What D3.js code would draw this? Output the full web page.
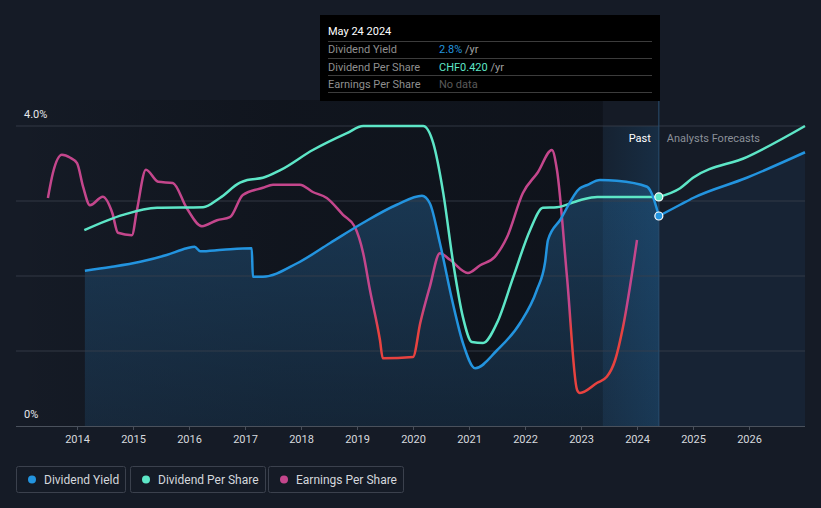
<!DOCTYPE html>
<html><head><meta charset="utf-8">
<script src="https://cdn.jsdelivr.net/npm/d3@7"></script>
<style>
html,body{margin:0;padding:0;background:#151b26;}
svg{display:block;font-family:Roboto,"Noto Sans",sans-serif;}
</style></head>
<body>
<svg id="c" width="821" height="508"></svg>
<script>
// ---- data ----
const yieldYears = [2014.14,2014.6,2015.13,2015.6,2015.96,2016.1,2016.2,2016.6,2017.12,2017.14,2017.32,2017.93,2018.52,2019.11,2019.71,2020.16,2020.3,2020.48,2020.71,2020.89,2021.11,2021.5,2021.91,2022.21,2022.36,2022.41,2022.63,2022.98,2023.1,2023.34,2023.64,2024.18,2024.25,2024.39];
const yieldValues = [2.07,2.12,2.19,2.28,2.37,2.39,2.33,2.35,2.37,1.99,1.99,2.17,2.44,2.71,2.95,3.07,2.97,2.44,1.64,1.11,0.77,1.01,1.37,1.81,2.19,2.48,2.75,3.17,3.21,3.28,3.27,3.19,3.12,2.80];
const yieldFcYears = [2024.39,2024.77,2025.0,2025.96,2027.0];
const yieldFcValues = [2.80,2.95,3.04,3.31,3.65];

const dpsYears = [2014.13,2014.82,2015.43,2016.25,2016.55,2016.91,2017.04,2017.32,2017.63,2018.21,2018.82,2019.11,2020.18,2020.36,2020.54,2020.71,2020.89,2021.05,2021.25,2021.5,2021.79,2022.09,2022.32,2022.57,2022.98,2023.29,2024.39];
const dpsValues = [0.359,0.387,0.400,0.401,0.418,0.446,0.451,0.455,0.469,0.506,0.537,0.55,0.55,0.519,0.427,0.304,0.200,0.154,0.152,0.189,0.273,0.359,0.400,0.401,0.414,0.420,0.420];
const dpsFcYears = [2024.39,2024.77,2025.0,2025.96,2027.0];
const dpsFcValues = [0.420,0.436,0.455,0.493,0.55];

const epsYears = [2013.48,2013.57,2013.73,2013.88,2014.0,2014.11,2014.23,2014.46,2014.63,2014.73,2014.98,2015.07,2015.23,2015.45,2015.71,2015.96,2016.23,2016.5,2016.73,2016.96,2017.32,2017.5,2017.98,2018.21,2018.46,2018.75,2018.96,2019.11,2019.23,2019.41,2019.46,2020.0,2020.13,2020.3,2020.48,2020.66,2020.98,2021.2,2021.46,2021.68,2021.96,2022.23,2022.48,2022.57,2022.75,2022.93,2022.98,2023.29,2023.46,2023.61,2023.75,2024.0];
const epsValues = [0.38,0.422,0.452,0.447,0.438,0.398,0.368,0.382,0.355,0.322,0.318,0.36,0.427,0.407,0.405,0.363,0.333,0.343,0.348,0.385,0.397,0.402,0.402,0.39,0.38,0.352,0.332,0.288,0.227,0.143,0.113,0.115,0.172,0.232,0.288,0.277,0.255,0.268,0.282,0.315,0.388,0.423,0.46,0.427,0.248,0.06,0.055,0.072,0.082,0.11,0.165,0.31];

const yTickLabels = ["0%","4.0%"];
const xTickYears = [2014,2015,2016,2017,2018,2019,2020,2021,2022,2023,2024,2025,2026];
const nowYear = 2024.39;
const pastStartYear = 2023.39;
const legendNames = ["Dividend Yield","Dividend Per Share","Earnings Per Share"];
const tooltipDate = "May 24 2024";
const tooltipRows = [["Dividend Yield","2.8%"," /yr"],["Dividend Per Share","CHF0.420"," /yr"],["Earnings Per Share","No data",""]];

// ---- styles ----
const C_BLUE="#2394df", C_TEAL="#5de6c7", C_MAG="#c4468c", C_RED="#e8423f";

const svg=d3.select("#c");
const L=16,R=805,T=126,B=426;
const x=d3.scaleLinear().domain([2012.91,2027.0]).range([L,R]);
const y=d3.scaleLinear().domain([0,4]).range([B,T]);
const yDps=d3.scaleLinear().domain([0,0.55]).range([B,T]);
const yEps=d3.scaleLinear().domain([0,0.5]).range([B,T]);

const defs=svg.append("defs");
const dk=defs.append("linearGradient").attr("id","dk").attr("x1",0).attr("x2",1).attr("y1",0).attr("y2",0);
dk.append("stop").attr("offset",0).attr("stop-color","#05070b").attr("stop-opacity",0);
dk.append("stop").attr("offset",0.45).attr("stop-color","#05070b").attr("stop-opacity",0.3);
dk.append("stop").attr("offset",1).attr("stop-color","#05070b").attr("stop-opacity",0.4);
const ar=defs.append("linearGradient").attr("id","ar").attr("x1",0).attr("x2",0).attr("y1",0).attr("y2",1);
ar.append("stop").attr("offset",0).attr("stop-color","#1d4466").attr("stop-opacity",0.75);
ar.append("stop").attr("offset",1).attr("stop-color","#1d4466").attr("stop-opacity",0.35);
const ps=defs.append("linearGradient").attr("id","ps").attr("x1",0).attr("x2",1).attr("y1",0).attr("y2",0);
ps.append("stop").attr("offset",0).attr("stop-color","#1f6fae").attr("stop-opacity",0.08);
ps.append("stop").attr("offset",1).attr("stop-color","#1f6fae").attr("stop-opacity",0.22);
const eg=defs.append("linearGradient").attr("id","eg").attr("gradientUnits","userSpaceOnUse")
  .attr("x1",0).attr("x2",0).attr("y1",T).attr("y2",B);
eg.append("stop").attr("offset",0).attr("stop-color",C_MAG);
eg.append("stop").attr("offset",(yEps(0.2)-T)/(B-T)).attr("stop-color",C_MAG);
eg.append("stop").attr("offset",(yEps(0.16)-T)/(B-T)).attr("stop-color",C_RED);
eg.append("stop").attr("offset",1).attr("stop-color",C_RED);

// darkening toward now
svg.append("rect").attr("x",L).attr("y",100).attr("width",x(pastStartYear)-L).attr("height",B-100).attr("fill","url(#dk)");

// areas
const yd=yieldYears.map((t,i)=>[t,yieldValues[i]]);
const yf=yieldFcYears.map((t,i)=>[t,yieldFcValues[i]]);
const area=d3.area().x(d=>x(d[0])).y0(B).y1(d=>y(d[1])).curve(d3.curveMonotoneX);
svg.append("path").attr("d",area(yd)).attr("fill","url(#ar)");
svg.append("path").attr("d",area(yf)).attr("fill","#1d3550").attr("opacity",0.35);

// past highlight
svg.append("rect").attr("x",x(pastStartYear)).attr("y",T).attr("width",x(nowYear)-x(pastStartYear)).attr("height",B-T).attr("fill","url(#ps)");

// gridlines
[1,2,3,4].forEach(v=>{
  svg.append("line").attr("x1",L).attr("x2",R).attr("y1",y(v)).attr("y2",y(v)).attr("stroke","#3a414d").attr("stroke-width",1).attr("opacity",0.8);
});
// now line
svg.append("line").attr("x1",x(nowYear)).attr("x2",x(nowYear)).attr("y1",101).attr("y2",B).attr("stroke","#2a4f70").attr("stroke-width",1);

// x axis
const xa=svg.append("g").attr("transform",`translate(0,${B})`)
  .call(d3.axisBottom(x).tickValues(xTickYears).tickFormat(d3.format("d")).tickSize(4).tickSizeOuter(0));
xa.select(".domain").attr("stroke","#4a515c").attr("d",`M${L},0.5H${R}`);
xa.selectAll(".tick line").attr("stroke","#4a515c");
xa.selectAll(".tick text").attr("fill","#d6d9de").attr("font-size",11).attr("dy","0.9em").attr("font-family","Roboto");

// y labels
svg.append("text").attr("x",24).attr("y",y(4)-8).attr("fill","#e6e8eb").attr("font-size",11).text(yTickLabels[1]);
svg.append("text").attr("x",24).attr("y",y(0)-8).attr("fill","#e6e8eb").attr("font-size",11).text(yTickLabels[0]);

// lines
const lineY=d3.line().x(d=>x(d[0])).y(d=>y(d[1])).curve(d3.curveMonotoneX);
const lineD=d3.line().x(d=>x(d[0])).y(d=>yDps(d[1])).curve(d3.curveMonotoneX);
const lineE=d3.line().x(d=>x(d[0])).y(d=>yEps(d[1])).curve(d3.curveMonotoneX);
const dd=dpsYears.map((t,i)=>[t,dpsValues[i]]);
const df=dpsFcYears.map((t,i)=>[t,dpsFcValues[i]]);
const ed=epsYears.map((t,i)=>[t,epsValues[i]]);
svg.append("path").attr("d",lineE(ed)).attr("fill","none").attr("stroke","url(#eg)").attr("stroke-width",2.5);
svg.append("path").attr("d",lineD(dd)).attr("fill","none").attr("stroke",C_TEAL).attr("stroke-width",2.5);
svg.append("path").attr("d",lineD(df)).attr("fill","none").attr("stroke",C_TEAL).attr("stroke-width",2.5);
svg.append("path").attr("d",lineY(yd)).attr("fill","none").attr("stroke",C_BLUE).attr("stroke-width",2.5);
svg.append("path").attr("d",lineY(yf)).attr("fill","none").attr("stroke",C_BLUE).attr("stroke-width",2.5);

// markers
svg.append("circle").attr("cx",x(nowYear)).attr("cy",yDps(dpsValues[dpsValues.length-1])).attr("r",4).attr("fill",C_TEAL).attr("stroke","#fff").attr("stroke-width",1.2);
svg.append("circle").attr("cx",x(nowYear)).attr("cy",y(yieldValues[yieldValues.length-1])).attr("r",4).attr("fill",C_BLUE).attr("stroke","#fff").attr("stroke-width",1.2);

// Past / Forecast labels
svg.append("text").attr("x",x(nowYear)-8).attr("y",142).attr("text-anchor","end").attr("fill","#ffffff").attr("font-size",11).text("Past");
svg.append("text").attr("x",x(nowYear)+8).attr("y",142).attr("fill","#8b9098").attr("font-size",11).text("Analysts Forecasts");

// tooltip
const tt=svg.append("g");
tt.append("rect").attr("x",320).attr("y",15).attr("width",340).attr("height",86).attr("fill","#000");
tt.append("text").attr("x",328).attr("y",35).attr("fill","#fff").attr("font-size",11).text(tooltipDate);
[41,58,75,92].forEach(yy=>tt.append("line").attr("x1",328).attr("x2",652).attr("y1",yy+0.5).attr("y2",yy+0.5).attr("stroke","#3c3c3c"));
const valColors=[C_BLUE,C_TEAL,"#5a5a5a"];
tooltipRows.forEach((r,i)=>{
  const yy=53+i*17.5;
  tt.append("text").attr("x",328).attr("y",yy).attr("fill","#8f8f8f").attr("font-size",11).text(r[0]);
  const t=tt.append("text").attr("x",439).attr("y",yy).attr("font-size",11);
  t.append("tspan").attr("fill",valColors[i]).text(r[1]);
  t.append("tspan").attr("fill","#a0a0a0").text(r[2]);
});

// legend
const lg=[[16,109,C_BLUE],[130,135,C_TEAL],[268,135,C_MAG]];
lg.forEach((l,i)=>{
  const g=svg.append("g");
  g.append("rect").attr("x",l[0]+0.5).attr("y",466.5).attr("width",l[1]).attr("height",26).attr("rx",2).attr("fill","none").attr("stroke","#3b414d");
  g.append("circle").attr("cx",l[0]+16).attr("cy",479.5).attr("r",4).attr("fill",l[2]);
  g.append("text").attr("x",l[0]+28).attr("y",483.5).attr("fill","#d4d7dc").attr("font-size",12).text(legendNames[i]);
});
</script>
</body></html>
